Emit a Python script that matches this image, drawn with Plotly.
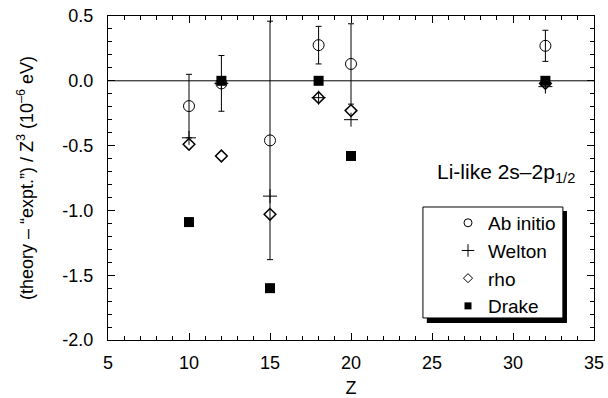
import plotly.graph_objects as go

# ---- data ----
Z = [10, 12, 15, 18, 20, 32]
ab_initio = [-0.195, -0.02, -0.46, 0.275, 0.13, 0.27]
ab_initio_err = [0.245, 0.215, 0.92, 0.145, 0.31, 0.12]
welton = [-0.44, -0.02, -0.89, -0.13, -0.30, -0.045]
rho = [-0.49, -0.58, -1.03, -0.13, -0.23, -0.02]
drake = [-1.09, 0.0, -1.60, 0.0, -0.58, 0.0]

series_names = ["Ab initio", "Welton", "rho", "Drake"]
x_ticks = [5, 10, 15, 20, 25, 30, 35]
y_ticks = [-2.0, -1.5, -1.0, -0.5, 0.0, 0.5]
y_tick_labels = ["-2.0", "-1.5", "-1.0", "-0.5", "0.0", "0.5"]

FONT = "Liberation Sans, Arial, Helvetica, sans-serif"

symbols = ["circle-open", "cross-thin-open", "diamond-open", "square"]
sizes = [11, 10, 9, 10]
widths = [1, 1, 1.5, 0]
legend_sizes = [8, 9, 7, 7]

fig = go.Figure()
values = [ab_initio, welton, rho, drake]
for i, (name, vals) in enumerate(zip(series_names, values)):
    kw = {}
    if i == 0:
        kw["error_y"] = dict(type="data", array=ab_initio_err, visible=True,
                             color="black", thickness=1, width=3)
    fig.add_trace(go.Scatter(
        x=Z, y=vals, mode="markers", name=name, showlegend=False,
        marker=dict(symbol=symbols[i], size=sizes[i], color="black",
                    line=dict(width=widths[i], color="black")),
        **kw,
    ))
# legend-only entries with smaller symbols
for i, name in enumerate(series_names):
    fig.add_trace(go.Scatter(
        x=[None], y=[None], mode="markers", name=name,
        marker=dict(symbol=symbols[i], size=legend_sizes[i], color="black",
                    line=dict(width=1 if widths[i] else 0, color="black")),
    ))

# zero line
fig.add_shape(type="line", xref="paper", yref="y", x0=0, x1=1, y0=0, y1=0,
              line=dict(color="black", width=1), layer="below")

# legend box with drop shadow
fig.add_shape(type="rect", xref="paper", yref="paper",
              x0=0.656, x1=0.9444, y0=0.0525, y1=0.398,
              fillcolor="black", line=dict(width=0), layer="above")
fig.add_shape(type="rect", xref="paper", yref="paper",
              x0=0.648, x1=0.936, y0=0.068, y1=0.4105,
              fillcolor="white", line=dict(width=1, color="black"), layer="above")

fig.add_annotation(
    text="Li-like 2s\u20132p<sub>1/2</sub>", xref="paper", yref="paper",
    x=0.672, y=0.515, xanchor="left", yanchor="middle", showarrow=False,
    font=dict(family=FONT, size=21, color="black"),
)

axis_common = dict(
    showline=True, linecolor="black", linewidth=1, mirror="ticks",
    ticks="inside", tickcolor="black", showgrid=False, zeroline=False,
    automargin=False,
    tickfont=dict(family=FONT, size=18, color="black"),
)

fig.update_xaxes(
    range=[5, 35], tickvals=x_ticks, ticklen=7, ticklabelstandoff=6,
    minor=dict(ticks="inside", dtick=1, tick0=5, ticklen=4, tickcolor="black", showgrid=False),
    title=dict(text="Z", font=dict(family=FONT, size=18, color="black"), standoff=19),
    **axis_common,
)
fig.update_yaxes(
    range=[-2.0, 0.5], tickvals=y_ticks, ticktext=y_tick_labels, ticklen=7,
    ticklabelstandoff=10,
    minor=dict(ticks="inside", dtick=0.1, tick0=0, ticklen=4, tickcolor="black", showgrid=False),
    title=dict(text="(theory \u2013 \u201cexpt.\u201d) / Z<sup>3</sup> (10<sup>\u20136</sup> eV)",
               font=dict(family=FONT, size=18, color="black"), standoff=24),
    **axis_common,
)

fig.update_layout(
    width=608, height=398,
    margin=dict(l=108, r=14, t=16, b=58),
    paper_bgcolor="white", plot_bgcolor="white",
    showlegend=True,
    legend=dict(
        x=0.6996, y=0.42, xanchor="left", yanchor="top",
        bgcolor="rgba(0,0,0,0)", borderwidth=0,
        font=dict(family=FONT, size=19, color="black"),
        itemsizing="trace",
    ),
)

fig.write_html("out.html")
